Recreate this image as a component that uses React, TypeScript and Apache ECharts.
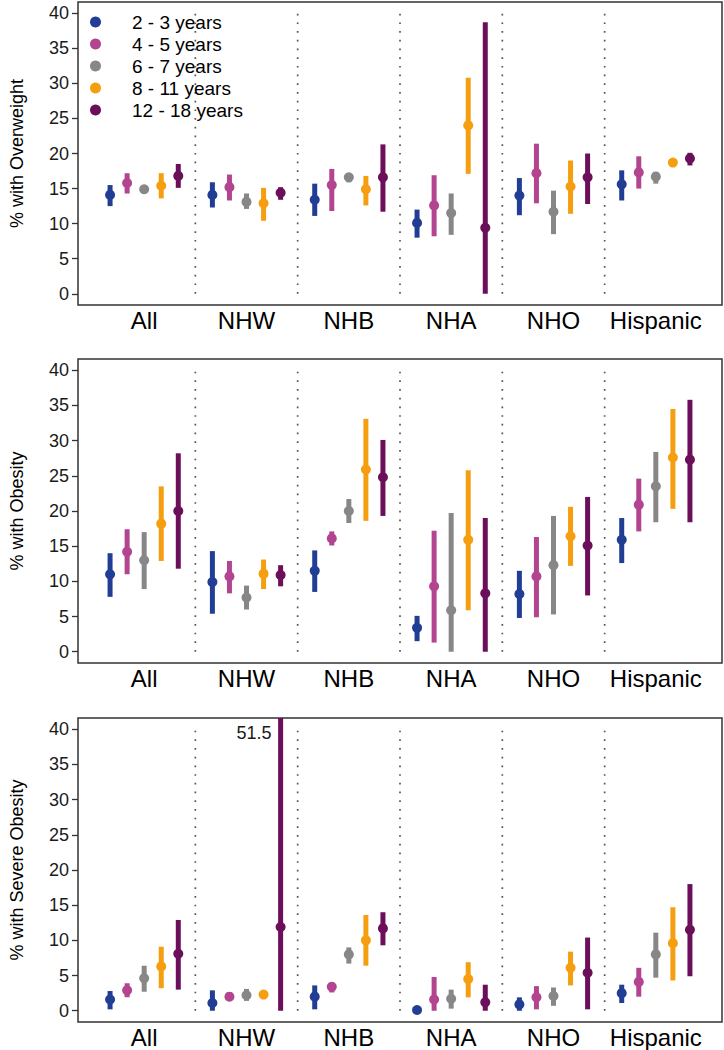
import React, { useEffect, useRef } from "react";
import * as echarts from "echarts";

// ---------- data ----------
const categories = ["All", "NHW", "NHB", "NHA", "NHO", "Hispanic"];
const ageGroups = ["2 - 3 years", "4 - 5 years", "6 - 7 years", "8 - 11 years", "12 - 18 years"];
const ageColors = ["#213e94", "#b3448f", "#878787", "#f59f10", "#6c0f5a"];
const yTicks = [0, 5, 10, 15, 20, 25, 30, 35, 40];
const separators = [5, 11, 17, 23, 29];

// rows = age group, columns = category
const overweightEst = [
  [14.1, 14.1, 13.4, 10.1, 14.0, 15.6],
  [15.8, 15.2, 15.5, 12.6, 17.2, 17.3],
  [14.9, 13.1, 16.6, 11.5, 11.7, 16.7],
  [15.4, 12.9, 14.9, 24.0, 15.3, 18.7],
  [16.8, 14.4, 16.6, 9.4, 16.6, 19.3],
];
const overweightLow = [
  [12.5, 12.3, 11.1, 8.0, 11.2, 13.3],
  [14.3, 13.3, 11.8, 8.2, 12.9, 15.0],
  [14.3, 12.1, 15.9, 8.4, 8.5, 15.7],
  [13.6, 10.4, 12.6, 17.1, 11.4, 18.4],
  [15.1, 13.4, 11.7, 0.0, 12.8, 18.3],
];
const overweightHigh = [
  [15.5, 15.9, 15.7, 12.0, 16.5, 17.6],
  [17.2, 17.0, 17.8, 16.9, 21.4, 19.6],
  [15.3, 14.3, 17.1, 14.3, 14.7, 17.4],
  [17.2, 15.1, 16.8, 30.8, 19.0, 19.0],
  [18.5, 15.2, 21.3, 38.7, 20.0, 20.1],
];

const obesityEst = [
  [11.0, 9.9, 11.5, 3.4, 8.2, 15.9],
  [14.2, 10.7, 16.1, 9.3, 10.7, 20.9],
  [13.0, 7.7, 20.0, 5.9, 12.3, 23.5],
  [18.2, 11.1, 25.9, 15.9, 16.4, 27.6],
  [20.0, 10.9, 24.8, 8.3, 15.1, 27.3],
];
const obesityLow = [
  [7.8, 5.4, 8.5, 1.5, 4.8, 12.6],
  [11.0, 8.3, 15.1, 1.3, 4.9, 17.1],
  [8.9, 6.0, 18.3, 0.0, 5.3, 18.4],
  [12.9, 8.9, 18.6, 5.9, 12.2, 20.3],
  [11.8, 9.3, 19.3, 0.0, 8.0, 18.4],
];
const obesityHigh = [
  [14.0, 14.3, 14.4, 5.1, 11.5, 19.0],
  [17.4, 12.9, 17.1, 17.2, 16.3, 24.6],
  [17.0, 9.4, 21.7, 19.7, 19.3, 28.4],
  [23.5, 13.1, 33.1, 25.8, 20.6, 34.5],
  [28.2, 12.3, 30.1, 19.0, 22.0, 35.8],
];

const severeEst = [
  [1.6, 1.1, 2.0, 0.1, 0.9, 2.5],
  [2.9, 2.0, 3.4, 1.6, 1.9, 4.1],
  [4.6, 2.2, 8.0, 1.7, 2.1, 8.0],
  [6.3, 2.3, 10.0, 4.5, 6.1, 9.6],
  [8.1, 11.9, 11.7, 1.2, 5.4, 11.5],
];
const severeLow = [
  [0.2, 0.0, 0.2, 0.0, 0.0, 1.1],
  [1.9, 1.5, 2.6, 0.0, 0.2, 2.0],
  [2.7, 1.4, 6.7, 0.3, 0.7, 4.7],
  [3.2, 2.0, 6.4, 1.9, 3.6, 4.3],
  [3.0, 0.0, 9.3, 0.0, 0.2, 4.9],
];
const severeHigh = [
  [2.8, 2.9, 3.6, 0.2, 1.9, 3.7],
  [3.9, 2.6, 4.0, 4.8, 3.5, 6.1],
  [6.4, 3.1, 9.0, 3.0, 3.3, 11.1],
  [9.1, 2.6, 13.6, 6.9, 8.4, 14.7],
  [12.9, 51.5, 14.0, 3.7, 10.4, 18.0],
];

const panelTitles = ["% with Overweight", "% with Obesity", "% with Severe Obesity"];

// ---------- layout constants ----------
const FONT = "'Liberation Sans', Arial, sans-serif";
const Y_MIN = -1.6;
const Y_MAX = 41.6;
const X_MIN = -1.88;
const X_MAX = 35.88;
const STEP = 6;

const panels = [
  { title: panelTitles[0], est: overweightEst, low: overweightLow, high: overweightHigh, top: 2, height: 303 },
  { title: panelTitles[1], est: obesityEst, low: obesityLow, high: obesityHigh, top: 359, height: 304 },
  { title: panelTitles[2], est: severeEst, low: severeLow, high: severeHigh, top: 718, height: 304 },
];

function buildOption() {
  const grids: any[] = [];
  const xAxes: any[] = [];
  const yAxes: any[] = [];
  const series: any[] = [];
  const catTicks = categories.map((_, i) => i * STEP + 2);

  panels.forEach((p, pi) => {
    grids.push({
      left: 70,
      right: 2,
      top: p.top,
      height: p.height,
      show: true,
      borderColor: "#333",
      borderWidth: 1.5,
      backgroundColor: "#fff",
    });
    xAxes.push({
      type: "value",
      gridIndex: pi,
      min: X_MIN,
      max: X_MAX,
      position: "bottom",
      splitLine: { show: false },
      axisLine: { show: false, onZero: false },
      axisTick: { show: false },
      axisLabel: {
        customValues: catTicks,
        formatter: (v: number) => categories[Math.round((v - 2) / STEP)] ?? "",
        fontSize: 24,
        fontFamily: FONT,
        color: "#000",
        margin: 3,
      },
    });
    yAxes.push({
      type: "value",
      gridIndex: pi,
      min: Y_MIN,
      max: Y_MAX,
      position: "left",
      name: p.title,
      nameLocation: "middle",
      nameGap: 52,
      nameTextStyle: { fontSize: 18, fontFamily: FONT, color: "#000" },
      splitLine: { show: false },
      axisLine: { show: false, onZero: false },
      axisTick: {
        show: true,
        customValues: yTicks,
        length: 6,
        lineStyle: { color: "#333", width: 1.3 },
      },
      axisLabel: {
        customValues: yTicks,
        fontSize: 18,
        fontFamily: FONT,
        color: "#1a1a1a",
        margin: 9,
      },
    });

    // dotted separators
    series.push({
      type: "custom",
      xAxisIndex: pi,
      yAxisIndex: pi,
      silent: true,
      z: 1,
      data: separators.map((s) => [s, 0, 40]),
      renderItem: (params: any, api: any) => {
        const a = api.coord([api.value(0), api.value(1)]);
        const b = api.coord([api.value(0), api.value(2)]);
        return {
          type: "line",
          shape: { x1: a[0], y1: a[1], x2: b[0], y2: b[1] },
          style: { stroke: "#555", lineWidth: 1.7, lineDash: [1.7, 7] },
        };
      },
    });

    ageGroups.forEach((name, ai) => {
      const color = ageColors[ai];
      // points
      series.push({
        type: "scatter",
        name,
        xAxisIndex: pi,
        yAxisIndex: pi,
        symbol: "circle",
        symbolSize: 10,
        z: 4,
        itemStyle: { color, opacity: 1 },
        data: categories.map((_, ci) => [ci * STEP + ai, p.est[ai][ci]]),
      });
      // error bars
      series.push({
        type: "custom",
        name,
        xAxisIndex: pi,
        yAxisIndex: pi,
        clip: true,
        z: 3,
        itemStyle: { color },
        data: categories.map((_, ci) => [ci * STEP + ai, p.low[ai][ci], p.high[ai][ci]]),
        renderItem: (params: any, api: any) => {
          const x = api.value(0);
          const lo = api.value(1);
          const hi = api.value(2);
          const b = api.coord([x, lo]);
          const t = api.coord([x, hi]);
          const children: any[] = [
            {
              type: "rect",
              shape: { x: b[0] - 2.5, y: t[1], width: 5, height: Math.max(0, b[1] - t[1]) },
              style: { fill: color },
            },
          ];
          if (hi > Y_MAX) {
            const lab = api.coord([x, 40]);
            children.push({
              type: "text",
              x: lab[0] - 9,
              y: lab[1] + 4,
              style: {
                text: String(hi),
                align: "right",
                verticalAlign: "middle",
                fontSize: 18,
                fontFamily: FONT,
                fill: "#1a1a1a",
              },
            });
          }
          return { type: "group", children };
        },
      });
    });
  });

  return {
    animation: false,
    backgroundColor: "#fff",
    grid: grids,
    xAxis: xAxes,
    yAxis: yAxes,
    legend: {
      data: ageGroups,
      orient: "vertical",
      left: 90,
      top: 12,
      padding: 0,
      icon: "circle",
      itemWidth: 11,
      itemHeight: 11,
      itemGap: 2,
      selectedMode: false,
      textStyle: {
        fontSize: 19,
        fontFamily: FONT,
        color: "#000",
        lineHeight: 20,
        padding: [0, 0, 0, 26],
      },
    },
    series,
  };
}

export default function App() {
  const ref = useRef<HTMLDivElement>(null);
  useEffect(() => {
    if (!ref.current) return;
    const chart = echarts.init(ref.current, undefined, { renderer: "svg" });
    chart.setOption(buildOption());
    return () => chart.dispose();
  }, []);
  return (
    <div
      ref={ref}
      style={{ position: "absolute", left: 0, top: 0, width: 724, height: 1050, background: "#fff" }}
    />
  );
}
